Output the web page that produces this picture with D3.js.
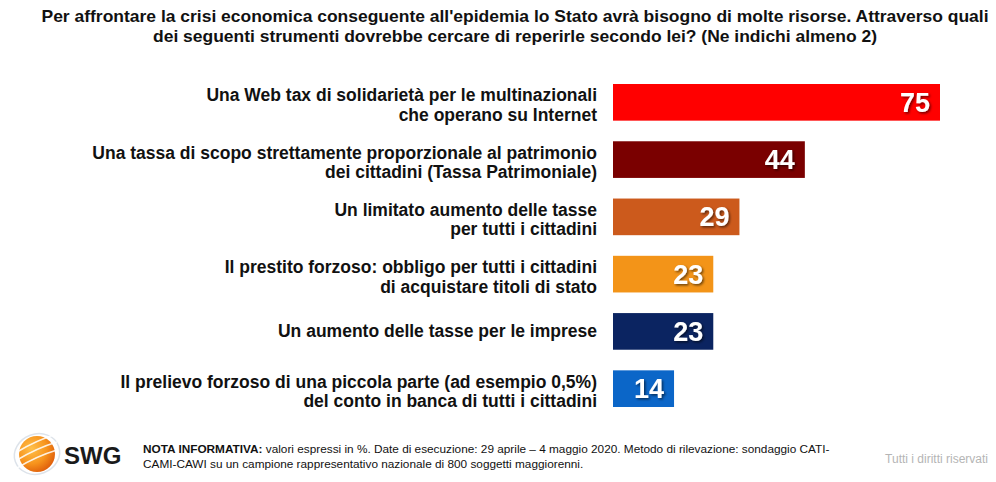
<!DOCTYPE html>
<html><head><meta charset="utf-8">
<script src="https://cdn.jsdelivr.net/npm/d3@7/dist/d3.min.js"></script>
<style>
html,body{margin:0;padding:0;background:#fff;}
svg{display:block;}
</style></head>
<body>
<svg id="chart" width="996" height="482"></svg>
<script>
const titleLines = [
  "Per affrontare la crisi economica conseguente all'epidemia lo Stato avrà bisogno di molte risorse. Attraverso quali",
  "dei seguenti strumenti dovrebbe cercare di reperirle secondo lei? (Ne indichi almeno 2)"
];
const categories = [
  ["Una Web tax di solidarietà per le multinazionali", "che operano su Internet"],
  ["Una tassa di scopo strettamente proporzionale al patrimonio", "dei cittadini (Tassa Patrimoniale)"],
  ["Un limitato aumento delle tasse", "per tutti i cittadini"],
  ["Il prestito forzoso: obbligo per tutti i cittadini", "di acquistare titoli di stato"],
  ["Un aumento delle tasse per le imprese"],
  ["Il prelievo forzoso di una piccola parte (ad esempio 0,5%)", "del conto in banca di tutti i cittadini"]
];
const values = [75, 44, 29, 23, 23, 14];
const colors = ["#ff0000", "#7a0000", "#cc5a1c", "#f39418", "#0b2461", "#0b66c8"];
const noteBold = "NOTA INFORMATIVA:";
const noteLines = [
  " valori espressi in %. Date di esecuzione: 29 aprile – 4 maggio 2020. Metodo di rilevazione: sondaggio CATI-",
  "CAMI-CAWI su un campione rappresentativo nazionale di 800 soggetti maggiorenni."
];
const rights = "Tutti i diritti riservati";

const svg = d3.select("#chart");
const idx = d3.range(values.length);

const x = d3.scaleLinear().domain([0, 75]).range([613, 940]);
const y = d3.scaleBand().domain(idx).range([84, 407]).paddingInner(0.36).paddingOuter(0);

const defs = svg.append("defs");
const f = defs.append("filter").attr("id","sh").attr("x","-20%").attr("y","-20%").attr("width","150%").attr("height","150%");
f.append("feDropShadow").attr("dx",1.5).attr("dy",1.5).attr("stdDeviation",0.8).attr("flood-color","#000").attr("flood-opacity",0.55);

// Title
const titleWidths = [947, 724];
svg.append("g").selectAll("text").data(titleLines).join("text")
  .attr("x", 515).attr("y", (d,i) => 22 + i*20)
  .attr("text-anchor","middle")
  .attr("font-family","'Liberation Sans',Arial,sans-serif")
  .attr("font-weight","bold").attr("font-size",17).attr("fill","#111")
  .attr("textLength",(d,i)=>titleWidths[i]).attr("lengthAdjust","spacingAndGlyphs")
  .text(d => d);

// Bars
svg.append("g").selectAll("rect").data(idx).join("rect")
  .attr("x", x(0)).attr("y", i => y(i))
  .attr("width", i => x(values[i]) - x(0)).attr("height", y.bandwidth())
  .attr("fill", i => colors[i]);

// Value labels
svg.append("g").selectAll("text").data(idx).join("text")
  .attr("x", i => x(values[i]) - 10).attr("y", i => y(i) + y.bandwidth()/2 + 9.5)
  .attr("text-anchor","end")
  .attr("font-family","'Liberation Sans',Arial,sans-serif")
  .attr("font-weight","bold").attr("font-size",27).attr("fill","#fff")
  .attr("filter","url(#sh)")
  .text(i => values[i]);

// Category labels
const lg = svg.append("g").selectAll("text").data(idx).join("text")
  .attr("text-anchor","end")
  .attr("font-family","'Liberation Sans',Arial,sans-serif")
  .attr("font-weight","bold").attr("font-size",17.5).attr("fill","#111");
lg.each(function(i){
  const lines = categories[i];
  const cy = y(i) + y.bandwidth()/2;
  const lh = 19.5;
  const t0 = lines.length > 1 ? cy - 1 : cy + 6;
  d3.select(this).selectAll("tspan").data(lines).join("tspan")
    .attr("x", 597).attr("y", (d,k) => t0 + k*lh).text(d => d);
});

// Footer logo
const logo = svg.append("g").attr("transform","translate(37,454)");
const lgGrad = defs.append("radialGradient").attr("id","lg").attr("cx","35%").attr("cy","35%").attr("r","70%");
lgGrad.append("stop").attr("offset","0%").attr("stop-color","#ffc04a");
lgGrad.append("stop").attr("offset","60%").attr("stop-color","#f7941d");
lgGrad.append("stop").attr("offset","100%").attr("stop-color","#e0600c");
logo.append("ellipse").attr("rx",23).attr("ry",20).attr("transform","rotate(-20)").attr("fill","none").attr("stroke","#dde3ea").attr("stroke-width",1.5);
logo.append("circle").attr("r",18).attr("fill","url(#lg)");
[-8,0,8].forEach(dy => logo.append("path")
  .attr("d", `M-20,${dy+6} Q0,${dy-6} 20,${dy-12}`)
  .attr("fill","none").attr("stroke","#fff").attr("stroke-width",1.6).attr("opacity",0.85));
svg.append("text").attr("x",64).attr("y",464)
  .attr("font-family","'Liberation Sans',Arial,sans-serif").attr("font-weight","bold")
  .attr("font-size",24).attr("fill","#1a1a1a").text("SWG");

// Note
const note = svg.append("text")
  .attr("font-family","'Liberation Sans',Arial,sans-serif").attr("font-size",11.8).attr("fill","#111");
note.append("tspan").attr("x",143).attr("y",453).attr("font-weight","bold").text(noteBold);
note.append("tspan").text(noteLines[0]);
note.append("tspan").attr("x",143).attr("y",468).text(noteLines[1]);

svg.append("text").attr("x",988).attr("y",463).attr("text-anchor","end")
  .attr("font-family","'Liberation Sans',Arial,sans-serif").attr("font-size",12).attr("fill","#b5b5b5")
  .text(rights);
</script>
</body></html>
